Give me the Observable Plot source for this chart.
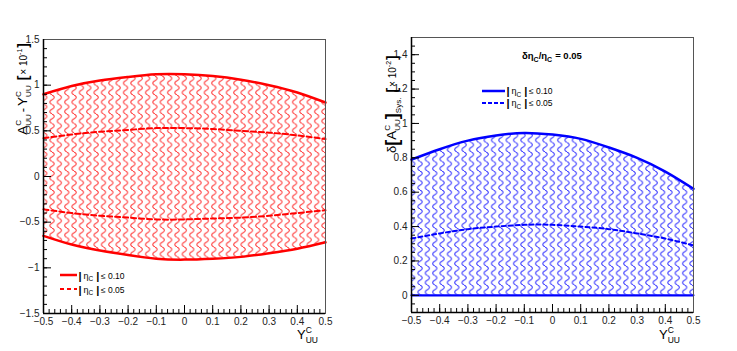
<!DOCTYPE html>
<html><head><meta charset="utf-8">
<script src="https://cdn.jsdelivr.net/npm/d3@7"></script>
<script src="https://cdn.jsdelivr.net/npm/@observablehq/plot@0.6"></script>
<style>
body{margin:0;background:#fff;}
#wrap{position:relative;width:737px;height:351px;overflow:hidden;background:#fff;}
#wrap svg{position:absolute;top:0;overflow:visible;}
</style></head><body><div id="wrap"></div>
<script>
// ---------- data ----------
const xs = [-0.5,-0.4,-0.3,-0.2,-0.1,0,0.1,0.2,0.3,0.4,0.5];
// left panel: A^C_UU - Y^C_UU  [x 10^-1]
const leftUpper10 = [0.90,0.99,1.05,1.09,1.12,1.12,1.10,1.06,1.00,0.92,0.81];
const leftLower10 = [-0.65,-0.745,-0.81,-0.86,-0.90,-0.91,-0.90,-0.88,-0.84,-0.79,-0.72];
const leftUpper05 = [0.42,0.46,0.49,0.51,0.53,0.53,0.52,0.50,0.48,0.45,0.41];
const leftLower05 = [-0.36,-0.40,-0.43,-0.45,-0.47,-0.47,-0.46,-0.45,-0.43,-0.40,-0.37];
// right panel: delta[A^C_UU]_Sys  [x 10^-2]
const rightUpper10 = [0.79,0.85,0.90,0.93,0.945,0.935,0.91,0.86,0.80,0.72,0.62];
const rightLower10 = [0,0,0,0,0,0,0,0,0,0,0];
const rightUpper05 = [0.33,0.36,0.385,0.40,0.41,0.41,0.40,0.385,0.36,0.33,0.29];
// ticks
const xTicks = [-0.5,-0.4,-0.3,-0.2,-0.1,0,0.1,0.2,0.3,0.4,0.5];
const leftYTicks = [-1.5,-1,-0.5,0,0.5,1,1.5];
const rightYTicks = [0,0.2,0.4,0.6,0.8,1,1.2,1.4];
const legendCuts = ["≤ 0.10","≤ 0.05"];
const deltaRatio = "= 0.05";

const xMinor = d3.range(-50, 51, 2).map(i => i/100);
const leftYMinor = d3.range(-15, 16).map(i => i/10);
const rightYMinor = d3.range(-2, 31).map(i => i/20);

const FONT = '"Liberation Sans", Arial, Helvetica, sans-serif';
const fmt = d3.format("");
const RED = "#ff0000", BLUE = "#0000ff";
const W = 368, H = 351;

function frameMarks(plotW, plotH, yMaj, yMin, yLo) {
  return [
    Plot.tickX(xMinor, {x: d => d, insetTop: plotH - 4, stroke: "#000"}),
    Plot.tickX(xTicks, {x: d => d, insetTop: plotH - 8, stroke: "#000"}),
    Plot.tickY(yMin, {y: d => d, insetRight: plotW - 4, stroke: "#000"}),
    Plot.tickY(yMaj, {y: d => d, insetRight: plotW - 8, stroke: "#000"}),
    Plot.frame({stroke: "#555", strokeWidth: 1}),
    Plot.ruleX([-0.5], {stroke: "#000", strokeWidth: 1.5}),
    Plot.ruleY([yLo], {stroke: "#000", strokeWidth: 1.5}),
    Plot.axisX(xTicks, {tickSize: 0, tickPadding: 4, tickFormat: fmt, label: null, fontSize: 10, fill: "#222"}),
    Plot.axisY(yMaj, {tickSize: 0, tickPadding: 4, tickFormat: fmt, label: null, fontSize: 10, fill: "#222"})
  ];
}

const left = Plot.plot({
  width: W, height: H,
  marginLeft: 43, marginRight: 43, marginTop: 39, marginBottom: 38,
  x: {domain: [-0.5, 0.5]},
  y: {domain: [-1.5, 1.5]},
  style: {fontFamily: FONT, background: "transparent", overflow: "visible"},
  marks: [
    Plot.areaY(xs, {x: xs, y1: leftLower10, y2: leftUpper10, fill: "url(#hatchRed)", curve: "natural"}),
    Plot.line(xs, {x: xs, y: leftUpper10, stroke: RED, strokeWidth: 2.5, curve: "natural"}),
    Plot.line(xs, {x: xs, y: leftLower10, stroke: RED, strokeWidth: 2.5, curve: "natural"}),
    Plot.line(xs, {x: xs, y: leftUpper05, stroke: RED, strokeWidth: 2, strokeDasharray: "5,3", curve: "natural"}),
    Plot.line(xs, {x: xs, y: leftLower05, stroke: RED, strokeWidth: 2, strokeDasharray: "5,3", curve: "natural"}),
    ...frameMarks(282, 274, leftYTicks, leftYMinor, -1.5)
  ]
});

const right = Plot.plot({
  width: 369, height: H,
  marginLeft: 43, marginRight: 44, marginTop: 37, marginBottom: 39,
  x: {domain: [-0.5, 0.5]},
  y: {domain: [-0.1, 1.5]},
  style: {fontFamily: FONT, background: "transparent", overflow: "visible"},
  marks: [
    Plot.areaY(xs, {x: xs, y1: rightLower10, y2: rightUpper10, fill: "url(#hatchBlue)", curve: "natural"}),
    Plot.line(xs, {x: xs, y: rightUpper10, stroke: BLUE, strokeWidth: 2.5, curve: "natural"}),
    Plot.line(xs, {x: xs, y: rightLower10, stroke: BLUE, strokeWidth: 2.2, curve: "natural"}),
    Plot.line(xs, {x: xs, y: rightUpper05, stroke: BLUE, strokeWidth: 2, strokeDasharray: "4,3", curve: "natural"}),
    ...frameMarks(282, 275, rightYTicks, rightYMinor, -0.1)
  ]
});

const wrap = document.getElementById("wrap");
left.style.left = "0px";
right.style.left = "368px";
wrap.appendChild(left);
wrap.appendChild(right);

function addPattern(svg, id, color, x0) {
  const defs = d3.select(svg).insert("defs", ":first-child");
  const p = defs.append("pattern").attr("id", id).attr("patternUnits", "userSpaceOnUse")
    .attr("x", x0).attr("y", 0).attr("width", 7.35).attr("height", 9.5);
  p.append("path")
    .attr("d", "M3.7,0 C6.6,1.4 6.6,3.35 3.7,4.75 C0.8,6.15 0.8,8.1 3.7,9.5")
    .attr("fill", "none").attr("stroke", color).attr("stroke-width", 1);
}
addPattern(left, "hatchRed", "#ff3030", 41);
addPattern(right, "hatchBlue", "#3030ff", 41);

// rich text helper (sub/superscripts)
function rich(svg, segs, {x, y, angle = 0, anchor = "start", fill = "#000"}) {
  const g = d3.select(svg).append("g").attr("text-anchor", "start");
  let cx = 0;
  for (const s of segs) {
    const parts = s.stack || [s];
    let w = 0;
    for (const p of parts) {
      const t = g.append("text").attr("x", cx).attr("y", p.dy || 0)
        .attr("text-anchor", "start")
        .attr("font-family", FONT).attr("font-size", p.size)
        .attr("font-weight", p.bold ? "bold" : null).attr("fill", fill).text(p.t);
      w = Math.max(w, t.node().getComputedTextLength());
    }
    cx += w + (s.gap || 0);
  }
  const shift = anchor === "end" ? -cx : anchor === "middle" ? -cx / 2 : 0;
  g.selectAll("text").attr("x", function() { return +this.getAttribute("x") + shift; });
  g.attr("transform", `translate(${x},${y}) rotate(${angle})`);
  return g;
}
const CUU = (gap = 0, s = 8) => ({stack: [{t: "C", size: s, dy: -6.5}, {t: "UU", size: s, dy: 3.5}], gap});

// left y title
rich(left, [
  {t: "A", size: 13.5}, CUU(2),
  {t: "-", size: 13, gap: 2},
  {t: "Y", size: 13.5}, CUU(5),
  {t: "[", size: 14, bold: true, dy: 1, gap: 1},
  {t: "× 10", size: 10},
  {t: "-1", size: 7, dy: -5, gap: 1},
  {t: "]", size: 14, bold: true, dy: 1}
], {x: 27, y: 43, angle: -90, anchor: "end"});

// right y title
rich(right, [
  {t: "δ", size: 13},
  {t: "[", size: 18, bold: true, dy: 2},
  {t: "A", size: 13.5}, CUU(0),
  {t: "]", size: 18, bold: true, dy: 2},
  {t: "Sys.", size: 8, dy: 5, gap: 5},
  {t: "[", size: 14, bold: true, dy: 1, gap: 1},
  {t: "× 10", size: 10},
  {t: "-2", size: 7, dy: -5, gap: 1},
  {t: "]", size: 14, bold: true, dy: 1}
], {x: 396 - 368, y: 153, angle: -90, anchor: "start"});

// x titles
const xTitle = [{t: "Y", size: 13}, {stack: [{t: "C", size: 8.5, dy: -5.5}, {t: "UU", size: 8.5, dy: 4.5}]}];
rich(left, xTitle, {x: 318, y: 338.5, anchor: "end"});
rich(right, xTitle, {x: 312, y: 338.5, anchor: "end"});

// in-panel label
rich(right, [
  {t: "δη", size: 9.5, bold: true},
  {t: "C", size: 7, bold: true, dy: 3},
  {t: "/η", size: 9.5, bold: true},
  {t: "C", size: 7, bold: true, dy: 3, gap: 3},
  {t: deltaRatio, size: 9.5, bold: true}
], {x: 154, y: 59});

// legends
function legend(svg, x0, x1, yLine, yText, color, dash, label) {
  d3.select(svg).append("line").attr("x1", x0).attr("x2", x1).attr("y1", yLine).attr("y2", yLine)
    .attr("stroke", color).attr("stroke-width", dash ? 2 : 2.5).attr("stroke-dasharray", dash);
  rich(svg, [
    {t: "|", size: 11, bold: true, dy: 1, gap: 2},
    {t: "η", size: 9},
    {t: "C", size: 6.5, dy: 2.5, gap: 3},
    {t: "|", size: 11, bold: true, dy: 1, gap: 1.5},
    {t: label, size: 8.5}
  ], {x: x1 + 1.5, y: yText});
}
legend(left, 60, 77, 275, 278.5, RED, null, legendCuts[0]);
legend(left, 60, 77, 289, 292.5, RED, "4,3", legendCuts[1]);
legend(right, 114, 137, 91, 94, BLUE, null, legendCuts[0]);
legend(right, 114, 137, 103, 106, BLUE, "4,2", legendCuts[1]);
</script></body></html>
